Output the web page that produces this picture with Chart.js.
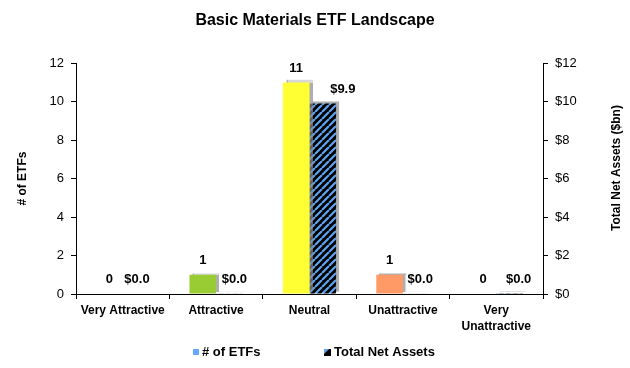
<!DOCTYPE html>
<html><head><meta charset="utf-8">
<script src="https://cdn.jsdelivr.net/npm/chart.js@4.4.1/dist/chart.umd.min.js"></script>
<style>html,body{margin:0;padding:0;background:#fff}#wrap{width:630px;height:368px;position:relative}</style>
</head><body><div id="wrap"><canvas id="c" width="630" height="368"></canvas></div>
<script>
const categories = [['Very Attractive'], ['Attractive'], ['Neutral'], ['Unattractive'], ['Very', 'Unattractive']];
const etfCounts = [0, 1, 11, 1, 0];
const netAssets = [0.0, 0.02, 9.9, 0.03, 0.01];
const leftTickValues = [0, 2, 4, 6, 8, 10, 12];
const rightTickLabels = ['$0', '$2', '$4', '$6', '$8', '$10', '$12'];
const seriesNames = ['# of ETFs', 'Total Net Assets'];

const FONT = "'Liberation Sans', Arial, sans-serif";
const ratingColors = ['#00843D', '#99CC33', '#FFFF33', '#FF9966', '#E03C31'];
const assetLabelShift = [1, 5, 20, 4, 9];

function makeHatch(ctx) {
  const s = 7;
  const p = document.createElement('canvas');
  p.width = s; p.height = s;
  const g = p.getContext('2d');
  g.fillStyle = '#000'; g.fillRect(0, 0, s, s);
  g.strokeStyle = '#5DA5F2'; g.lineWidth = 2.2;
  g.beginPath();
  for (const o of [-s, 0, s]) { g.moveTo(o, s); g.lineTo(o + s, 0); }
  g.stroke();
  return ctx.createPattern(p, 'repeat');
}
const ctx0 = document.getElementById('c').getContext('2d');
const hatchPattern = makeHatch(ctx0);

const shadowPlugin = {
  id: 'barShadow',
  beforeDatasetDraw(chart) {
    const c = chart.ctx; c.save();
    c.shadowColor = 'rgba(140,140,140,0.7)';
    c.shadowOffsetX = 3; c.shadowOffsetY = -2; c.shadowBlur = 1;
  },
  afterDatasetDraw(chart) { chart.ctx.restore(); }
};

const labelPlugin = {
  id: 'valueLabels',
  afterDatasetsDraw(chart) {
    const c = chart.ctx;
    c.save();
    c.font = 'bold 13px ' + FONT;
    c.fillStyle = '#000';
    c.textAlign = 'center';
    c.textBaseline = 'bottom';
    chart.data.datasets.forEach((ds, di) => {
      const meta = chart.getDatasetMeta(di);
      meta.data.forEach((el, i) => {
        const v = ds.data[i];
        const txt = di === 0 ? String(v) : '$' + v.toFixed(1);
        const dx = di === 1 ? assetLabelShift[i] : 0;
        c.fillText(txt, el.x + dx, el.y - 8);
      });
    });
    c.restore();
  }
};

const extrasPlugin = {
  id: 'extras',
  afterDraw(chart) {
    const c = chart.ctx;
    const a = chart.chartArea;
    c.save();
    c.font = 'bold 12px ' + FONT;
    c.fillStyle = '#000';
    c.textAlign = 'center'; c.textBaseline = 'middle';
    c.translate(617, 168);
    c.rotate(-Math.PI / 2);
    c.fillText('Total Net Assets ($bn)', 0, 0);
    c.restore();
    // legend
    c.save();
    const y = 352;
    c.font = 'bold 13px ' + FONT;
    c.textBaseline = 'middle'; c.textAlign = 'left';
    c.fillStyle = '#66AAFF';
    c.fillRect(193, y - 3, 6, 6);
    c.fillStyle = '#000';
    c.fillText(seriesNames[0], 202, y);
    c.fillStyle = '#000';
    c.fillRect(324, y - 3, 7, 7);
    c.fillStyle = '#5DA5F2';
    c.beginPath(); c.moveTo(324, y - 3); c.lineTo(329, y - 3); c.lineTo(324, y + 2); c.closePath(); c.fill();
    c.fillStyle = '#000';
    c.fillText(seriesNames[1], 334, y);
    c.restore();
  }
};

new Chart(ctx0, {
  type: 'bar',
  data: {
    labels: categories,
    datasets: [
      { label: seriesNames[0], data: etfCounts, yAxisID: 'y', backgroundColor: ratingColors, borderWidth: 0,
        categoryPercentage: 0.57, barPercentage: 1.0 },
      { label: seriesNames[1], data: netAssets, yAxisID: 'y1', backgroundColor: hatchPattern, borderWidth: 0,
        categoryPercentage: 0.57, barPercentage: 1.0 }
    ]
  },
  options: {
    responsive: false,
    animation: false,
    layout: { padding: { left: 0, right: 0, top: 0, bottom: 32 } },
    plugins: {
      legend: { display: false },
      tooltip: { enabled: false },
      title: {
        display: true, text: 'Basic Materials ETF Landscape', color: '#000',
        font: { family: FONT, size: 16, weight: 'bold' },
        padding: { top: 11, bottom: 33 }
      }
    },
    scales: {
      x: {
        grid: { display: true, drawOnChartArea: false, drawTicks: true, tickLength: 5, color: '#000', offset: true },
        border: { display: true, color: '#000', width: 1 },
        ticks: { color: '#000', font: { family: FONT, size: 12, weight: 'bold', lineHeight: 1.3 }, maxRotation: 0, autoSkip: false, padding: 4 },
        afterFit(s) { s.height = 42; }
      },
      y: {
        position: 'left', min: 0, max: 12,
        afterBuildTicks(s) { s.ticks = leftTickValues.map(v => ({ value: v })); },
        grid: { display: true, drawOnChartArea: false, drawTicks: true, tickLength: 5, color: '#000' },
        border: { display: true, color: '#000', width: 1 },
        ticks: { color: '#000', font: { family: FONT, size: 13 }, padding: 7 },
        title: { display: true, text: '# of ETFs', color: '#000', font: { family: FONT, size: 12, weight: 'bold' }, padding: { top: 15, bottom: 0 } },
        afterFit(s) { s.width = 76; }
      },
      y1: {
        position: 'right', min: 0, max: 12,
        afterBuildTicks(s) { s.ticks = leftTickValues.map(v => ({ value: v })); },
        grid: { display: true, drawOnChartArea: false, drawTicks: true, tickLength: 5, color: '#000' },
        border: { display: true, color: '#000', width: 1 },
        ticks: { color: '#000', font: { family: FONT, size: 13 }, padding: 7,
          callback(v) { return rightTickLabels[leftTickValues.indexOf(v)]; } },
        afterFit(s) { s.width = 87; }
      }
    }
  },
  plugins: [shadowPlugin, labelPlugin, extrasPlugin]
});
</script>
</body></html>
